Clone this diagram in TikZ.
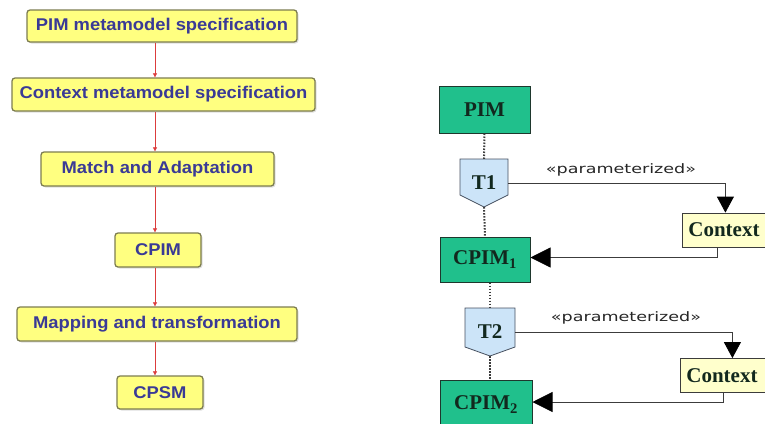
\documentclass[tikz,border=0pt]{standalone}
\usepackage{fontspec}
\setmainfont{Liberation Serif}
\newfontfamily\arialb[FakeStretch=1.08]{Liberation Sans}
\newfontfamily\lblfont[FakeStretch=1.35]{DejaVu Sans}
\usetikzlibrary{arrows.meta,shadows,calc}
\definecolor{stepfill}{RGB}{255,255,128}
\definecolor{stepdraw}{RGB}{125,125,80}
\definecolor{steptext}{RGB}{58,58,150}
\definecolor{flowred}{RGB}{220,60,60}
\definecolor{modelfill}{RGB}{32,192,140}
\definecolor{modeldraw}{RGB}{30,55,45}
\definecolor{modeltext}{RGB}{18,40,30}
\definecolor{trafill}{RGB}{204,228,248}
\definecolor{tradraw}{RGB}{70,80,95}
\definecolor{ctxfill}{RGB}{255,255,204}
\definecolor{linegray}{RGB}{60,60,60}
\begin{document}
\begin{tikzpicture}[x=1pt,y=-1pt,
  stepbox/.style={draw=stepdraw, line width=1.3pt, fill=stepfill, rounded corners=3pt,
    font=\arialb\bfseries\fontsize{17}{20}\selectfont, text=steptext, inner sep=0pt,
    drop shadow={shadow xshift=1.5pt, shadow yshift=-1.5pt, opacity=0.25}},
  flowarrow/.style={draw=flowred, line width=0.6pt, -{Triangle[length=4pt,width=4pt]}},
  modelbox/.style={draw=modeldraw, line width=1pt, fill=modelfill, inner sep=0pt,
    font=\bfseries\fontsize{21}{24}\selectfont, text=modeltext},
  trabox/.style={inner sep=0pt, font=\bfseries\fontsize{21}{24}\selectfont, text=modeltext},
  trashape/.style={draw=tradraw, line width=0.8pt, fill=trafill},
  ctxbox/.style={draw=linegray, line width=0.8pt, fill=ctxfill, inner xsep=6pt, inner ysep=0pt,
    text width=90pt, align=left, minimum height=34pt, anchor=west,
    font=\bfseries\fontsize{21}{24}\selectfont, text=modeltext},
  dotline/.style={draw=linegray, line width=2pt, dash pattern=on 1.5pt off 1.5pt},
  paramline/.style={draw=linegray, line width=0.8pt, -{Triangle[length=16pt,width=17pt,black]}},
  backline/.style={draw=linegray, line width=0.8pt, -{Triangle[length=20pt,width=20pt,black]}},
  lbl/.style={font=\lblfont\fontsize{13}{15}\selectfont, text=black!85, inner sep=0pt}
]
\useasboundingbox (0,0) rectangle (765,423);

% left flow
\coordinate (spine) at (155,0);
\node[stepbox, minimum width=270, minimum height=32] (b1) at (162,26) {PIM metamodel specification};
\node[stepbox, minimum width=303, minimum height=33] (b2) at (163.5,94.5) {Context metamodel specification};
\node[stepbox, minimum width=233, minimum height=34] (b3) at (157.5,169) {Match and Adaptation};
\node[stepbox, minimum width=86, minimum height=34] (b4) at (158,250) {CPIM};
\node[stepbox, minimum width=280, minimum height=34] (b5) at (157,324) {Mapping and transformation};
\node[stepbox, minimum width=86, minimum height=33] (b6) at (160,392.5) {CPSM};
\draw[flowarrow] (b1.south -| spine) -- (b2.north -| spine);
\draw[flowarrow] (b2.south -| spine) -- (b3.north -| spine);
\draw[flowarrow] (b3.south -| spine) -- (b4.north -| spine);
\draw[flowarrow] (b4.south -| spine) -- (b5.north -| spine);
\draw[flowarrow] (b5.south -| spine) -- (b6.north -| spine);

% right diagram
\node[modelbox, minimum width=91, minimum height=47] (pim) at (484.5,109.5) {PIM};
\node[modelbox, minimum width=90, minimum height=45] (cpim1) at (485,259.5) {CPIM\textsubscript{1}};
\node[modelbox, minimum width=92, minimum height=50, text depth=0pt] (cpim2) at (486,405) {\raisebox{4pt}{CPIM\textsubscript{2}}};

\draw[trashape] (460,159) -- (508,159) -- (508,195) -- (484,207) -- (460,195) -- cycle;
\node[trabox, minimum width=48, minimum height=48] (t1) at (484,183) {T1};
\draw[trashape] (465,308) -- (515,308) -- (515,347) -- (490,356) -- (465,347) -- cycle;
\node[trabox, minimum width=50, minimum height=48] (t2) at (490,332) {T2};

\node[ctxbox] (ctx1) at (682,230) {Context};
\node[ctxbox] (ctx2) at (680,375.5) {Context};

\draw[dotline] (pim.south) -- (t1.north);
\draw[dotline] (t1.south) -- (cpim1.north);
\draw[dotline] (t2.north |- cpim1.south) -- (t2.north);
\draw[dotline] (t2.south) -- (t2.south |- cpim2.north);

\draw[paramline] (t1.east) -| ([xshift=-8pt]ctx1.north);
\node[lbl] (p1) at (621,170) {«parameterized»};
\draw[backline] ([xshift=-16pt]ctx1.south) |- ([yshift=2pt]cpim1.east);

\draw[paramline] (t2.east) -| ([xshift=1pt]ctx2.north);
\node[lbl] (p2) at (626,318) {«parameterized»};
\draw[backline] ([xshift=-8pt]ctx2.south) |- ([yshift=3pt]cpim2.east);
\end{tikzpicture}
\end{document}
